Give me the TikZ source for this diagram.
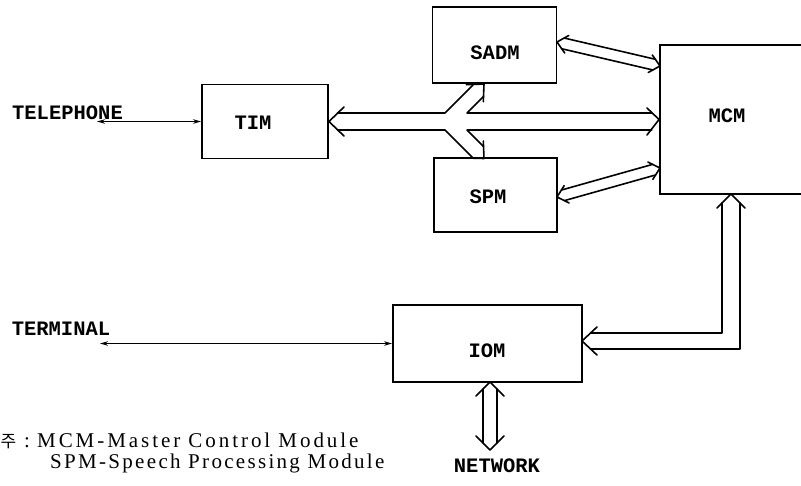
\documentclass[tikz,border=0pt]{standalone}
\usepackage{fontspec}
\setmainfont{Liberation Serif}
\newfontfamily\labfont{Liberation Mono}
\newfontfamily\legfont{Liberation Serif}[LetterSpace=14]
\newfontfamily\legfonttwo{Liberation Serif}[LetterSpace=11]
\newfontfamily\cjk{Noto Sans CJK KR}
\usetikzlibrary{calc,arrows.meta}
\newcommand\dblarrow[5]{% #1 tip A, #2 tip B, #3 half width, #4 head length, #5 head half width
  \pgfmathsetlengthmacro\dbls{#4pt*#3/#5}%
  \coordinate (dbA) at ($(#1)!#4pt!(#2)$);
  \coordinate (dbB) at ($(#2)!#4pt!(#1)$);
  \coordinate (dbC) at ($(#1)!\dbls!(#2)$);
  \coordinate (dbD) at ($(#2)!\dbls!(#1)$);
  \draw[conn] ($(dbA)!#5pt!90:(#2)$) -- (#1) -- ($(dbA)!#5pt!-90:(#2)$);
  \draw[conn] ($(dbB)!#5pt!90:(#1)$) -- (#2) -- ($(dbB)!#5pt!-90:(#1)$);
  \draw[conn] ($(dbC)!#3pt!90:(#2)$) -- ($(dbD)!#3pt!-90:(#1)$);
  \draw[conn] ($(dbC)!#3pt!-90:(#2)$) -- ($(dbD)!#3pt!90:(#1)$);
}
\tikzset{
  box/.style={draw, line width=1.9pt, inner sep=0pt},
  lab/.style={font=\labfont\bfseries\fontsize{20.5}{22}\selectfont, inner sep=0pt},
  leg/.style={font=\legfont\fontsize{21}{23}\selectfont, inner sep=0pt, anchor=base west},
  legtwo/.style={font=\legfonttwo\fontsize{21}{23}\selectfont, inner sep=0pt, anchor=base west},
  conn/.style={line width=1.6pt, line join=round, line cap=round},
  wire/.style={line width=1.7pt, {Stealth[length=8pt,width=4.5pt]}-{Stealth[length=8pt,width=4.5pt]}}
}
\begin{document}
\begin{tikzpicture}[x=1pt,y=-1pt]
\useasboundingbox (0,0) rectangle (801,485);
% boxes
\node[box, minimum width=126pt, minimum height=74pt] (tim) at (265,121.5) {};
\node[box, minimum width=124pt, minimum height=76pt] (sadm) at (494.5,45) {};
\node[box, minimum width=123pt, minimum height=74pt] (spm) at (495.5,195) {};
\node[box, minimum width=180pt, minimum height=149pt] (mcm) at (750,119.5) {};
\node[box, minimum width=189pt, minimum height=77pt] (iom) at (487.5,343.5) {};
% labels
\node[lab] (ltel) at (67.5,113) {TELEPHONE};
\node[lab] (ltim) at (253,123) {TIM};
\node[lab] (lsadm) at (495,53) {SADM};
\node[lab] (lspm) at (488,197) {SPM};
\node[lab] (lmcm) at (727,116) {MCM};
\node[lab] (lterm) at (61,329) {TERMINAL};
\node[lab] (liom) at (487,351) {IOM};
\node[lab] (lnet) at (497,466) {NETWORK};
% legend
\node[anchor=base west, inner sep=0pt, font=\cjk\fontsize{17}{20}\selectfont] (ju) at (0.5,447) {주};
\node[leg] (colon) at (24,447) {:};
\node[leg] (leg1) at (37,447) {MCM-Master Control Module};
\node[legtwo] (leg2) at (50,468) {SPM-Speech Processing Module};
% single wires
\coordinate (telend) at (97,121.5);
\coordinate (termend) at (100,343.5);
\draw[wire] (telend) -- (tim.west);
\draw[wire] (termend) -- (iom.west);
% main bus TIM <-> MCM with branches to SADM and SPM
\coordinate (timtip) at (tim.east);
\coordinate (mcmtip) at (mcm.west);
\draw[conn] (344,107) -- (timtip) -- (344,136);
\draw[conn] (647,108) -- (mcmtip) -- (647,135);
\draw[conn] (337.5,113) -- (445,113) -- (473,85);
\draw[conn] (337.5,130) -- (445,130) -- (473,158);
\draw[conn] (651.8,113) -- (467,113) -- (483.5,96.5);
\draw[conn] (651.8,130) -- (467,130) -- (483.5,146.5);
\coordinate (uptip) at (484,84);
\coordinate (dntip) at (484,158.5);
\draw[conn] (466.3,84.7) -- (uptip) -- (483.3,101.7);
\draw[conn] (466.3,158) -- (dntip) -- (483.3,141);
% SADM <-> MCM, SPM <-> MCM
\coordinate (sa1) at (557,42);
\coordinate (sa2) at (660,66);
\coordinate (sp1) at (557,197);
\coordinate (sp2) at (660,168);
\dblarrow{sa1}{sa2}{5.5}{10}{9}
\dblarrow{sp1}{sp2}{5.5}{10}{9}
% IOM <-> NETWORK
\coordinate (n1) at (490,382);
\coordinate (n2) at (490,450);
\dblarrow{n1}{n2}{7}{14}{14}
% MCM <-> IOM
\coordinate (mbt) at (731,194);
\coordinate (iet) at (582,341);
\draw[conn] (717,208) -- (mbt) -- (745,208);
\draw[conn] (597,327) -- (iet) -- (597,355);
\draw[conn] (722,203) -- (722,333) -- (590.6,333);
\draw[conn] (740,203) -- (740,349) -- (590.6,349);
\end{tikzpicture}
\end{document}
